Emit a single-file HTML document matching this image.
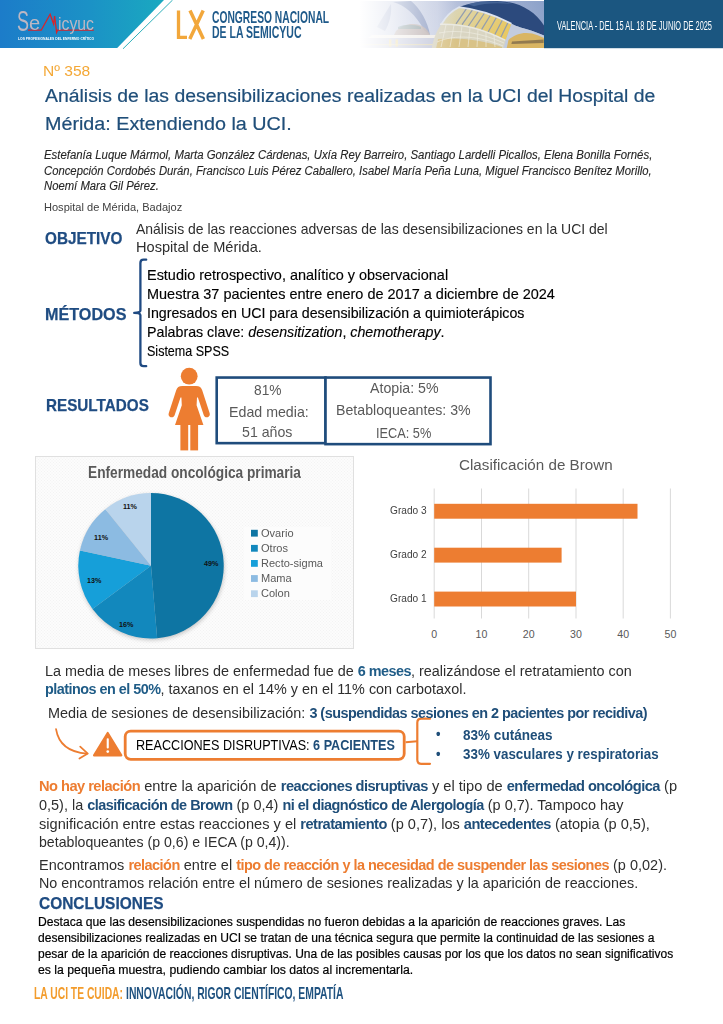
<!DOCTYPE html>
<html lang="es"><head><meta charset="utf-8"><title>Poster 358</title>
<style>
html,body{margin:0;padding:0;background:#fff;}
body{width:723px;height:1024px;overflow:hidden;font-family:"Liberation Sans",sans-serif;}
#page{position:relative;width:723px;height:1024px;overflow:hidden;background:#fff;}
.t{position:absolute;white-space:nowrap;line-height:1;margin:0;padding:0;}
.t>.s{display:inline-block;transform-origin:0 50%;white-space:nowrap;}
.abs{position:absolute;}
svg{position:absolute;left:0;top:0;overflow:visible;}
.box{position:absolute;box-sizing:border-box;border:2.4px solid #1F4E79;background:#fff;}
.c{position:absolute;white-space:nowrap;line-height:1;transform:translateX(-50%);}

</style></head>
<body>
<div id="page">
<!-- ================= HEADER ================= -->
<svg width="723" height="60" viewBox="0 0 723 60">
  <defs>
    <linearGradient id="gban" x1="0" y1="0" x2="1" y2="0">
      <stop offset="0" stop-color="#1C7CC9"/>
      <stop offset="0.55" stop-color="#1B92C6"/>
      <stop offset="1" stop-color="#1AA9C0"/>
    </linearGradient>
    <linearGradient id="gsky" x1="0" y1="0" x2="0" y2="1">
      <stop offset="0" stop-color="#8E9FC6"/>
      <stop offset="0.6" stop-color="#B9C3DC"/>
      <stop offset="1" stop-color="#D8D6DE"/>
    </linearGradient>
    <linearGradient id="gfade" x1="0" y1="0" x2="1" y2="0">
      <stop offset="0" stop-color="#fff" stop-opacity="1"/>
      <stop offset="0.05" stop-color="#fff" stop-opacity="1"/>
      <stop offset="0.2" stop-color="#fff" stop-opacity="0.75"/>
      <stop offset="0.4" stop-color="#fff" stop-opacity="0.3"/>
      <stop offset="0.55" stop-color="#fff" stop-opacity="0"/>
    </linearGradient>
    <linearGradient id="gskyh" x1="0" y1="0" x2="1" y2="0">
      <stop offset="0.45" stop-color="#C9D0E4" stop-opacity="0.9"/>
      <stop offset="0.7" stop-color="#AFBCDA" stop-opacity="0.6"/>
      <stop offset="1" stop-color="#8BA1C9" stop-opacity="0.9"/>
    </linearGradient>
    <linearGradient id="gwin" x1="0" y1="0" x2="1" y2="0.35">
      <stop offset="0" stop-color="#D6D6C8"/>
      <stop offset="0.4" stop-color="#DFD3A0"/>
      <stop offset="1" stop-color="#E8C965"/>
    </linearGradient>
    <clipPath id="cph"><rect x="350" y="1" width="194" height="47"/></clipPath>
  </defs>
  <!-- left banner -->
  <polygon points="0,0 164,0 117.2,48 0,48" fill="url(#gban)"/>
  <line x1="172.6" y1="0" x2="123" y2="48.8" stroke="#2FB0BA" stroke-width="1"/>
  <!-- photo -->
  <g clip-path="url(#cph)">
    <rect x="350" y="0" width="194" height="49" fill="url(#gsky)"/>
    <rect x="350" y="0" width="194" height="49" fill="url(#gskyh)"/>
    <!-- Palau de les Arts (left, faded) -->
    <path d="M393,2 C405,5 416,15 424,30 L430,35 C428,22 420,8 411,1 Z" fill="#7C8DB8" opacity="0.8"/>
    <path d="M377,27 C381,20 386,12 391,4 C392,14 389,24 385,31 Z" fill="#8796BE" opacity="0.75"/>
    <path d="M396,31 C403,24 414,22 422,26 C427,29 429,32 430,35 L394,35 Z" fill="#B9A9A4" opacity="0.85"/>
    <path d="M398,27 C405,24 414,24 421,27 L421,29 L398,29 Z" fill="#7F9A9E" opacity="0.7"/>
    <path d="M372,35 L436,35 L440,38 L368,38 Z" fill="#F1ECE6" opacity="0.95"/>
    <rect x="350" y="38" width="96" height="11" fill="#C3C7DA"/>
    <rect x="389" y="39.5" width="2.4" height="7" fill="#E9D594"/>
    <rect x="395.5" y="39.5" width="2.4" height="7" fill="#E9D594"/>
    <rect x="350" y="44" width="96" height="1.2" fill="#E6D9B0" opacity="0.8"/>
    <!-- Hemisferic: dark dome cap -->
    <path d="M459,7.2 C470,2.6 485,0.6 500,1.2 C521,2.4 536,12 545,27 L545,36 C536,32 528,29 520.5,27.4 C517,26.4 514,25.2 511.5,23.8 C496,15.6 480,9.6 459,7.2 Z" fill="#2C4A7D"/>
    <path d="M468,4.2 C482,0.2 500,0 514,4.6 C500,2.2 484,3.2 474,6.2 Z" fill="#4C6A9C" opacity="0.8"/>
    <!-- lower lattice body -->
    <path d="M432,49 L432,47 C434,36 438,29 441.5,24 C456,23.5 480,27 505.6,40.4 L508,49 Z" fill="#D9D5C2"/>
    <path d="M436,49 L438,39 C458,37 484,40 502,47 L502,49 Z" fill="#D8BF7E" opacity="0.85"/>
    <g stroke="#F2F0E6" stroke-width="0.7" opacity="0.8" fill="none">
      <path d="M437,42 C455,34 480,36 503,46"/><path d="M439,33 C458,29 482,33 504,43"/>
      <line x1="446" y1="25" x2="441" y2="47"/><line x1="454" y1="25" x2="450" y2="47"/><line x1="462" y1="26" x2="459" y2="47"/>
      <line x1="470" y1="27.5" x2="468" y2="47"/><line x1="478" y1="29.5" x2="477" y2="47"/><line x1="486" y1="32" x2="486" y2="47"/><line x1="494" y1="35" x2="495" y2="47"/>
    </g>
    <!-- window band -->
    <path d="M441.5,24 C446,16 452,10.6 459,7.2 C480,9.6 496,15.6 511.5,23.8 L505.6,40.4 C482,28 458,23.6 441.5,24 Z" fill="url(#gwin)"/>
    <g stroke="#8F9BB0" stroke-width="1.25" opacity="0.95">
      <line x1="466.5" y1="8.6" x2="456" y2="23.8"/><line x1="472.5" y1="9.8" x2="462" y2="24.6"/>
      <line x1="478.5" y1="11.2" x2="468.4" y2="26"/><line x1="484.5" y1="13" x2="474.8" y2="27.6"/>
      <line x1="490.5" y1="15" x2="481.4" y2="29.8"/><line x1="496.5" y1="17.2" x2="488" y2="32.2"/>
      <line x1="502.5" y1="19.8" x2="494.6" y2="35"/><line x1="508" y1="22.4" x2="500.6" y2="37.8"/>
    </g>
    <!-- white ribs -->
    <path d="M441.5,24 C446,16 452,10.6 459,7.2 C480,9.6 496,15.6 511.5,23.8" fill="none" stroke="#DDE3EE" stroke-width="1.7"/>
    <path d="M440,24.2 C458,23.6 482,28 505.6,40.4" fill="none" stroke="#E9E8E0" stroke-width="1.5"/>
    <!-- eyelid support + lit interior -->
    <path d="M511.5,23.8 C514,25.2 517,26.4 520.5,27.4 C528,29 536,32 545,36 L545,49 L503.5,49 L505.6,40.4 Z" fill="#C3CCDE"/>
    <path d="M508.5,40 C515,33.6 524,31.8 532,33.6 C537,34.8 541,36.6 545,38.6 L545,49 L506.5,49 Z" fill="#D9B563"/>
    <path d="M512,41.4 L543.6,39.6 L543.6,43 L511.4,44 Z" fill="#7A6748" opacity="0.75"/>
    <!-- left fade to white -->
    <rect x="350" y="0" width="194" height="49" fill="url(#gfade)"/>
  </g>
  <!-- right panel -->
  <rect x="544" y="0" width="179" height="48.2" fill="#1B5680"/>
</svg>

<!-- SEMICYUC logo (texts are emitted by build.py) -->
<svg width="723" height="60" viewBox="0 0 723 60">
  <path d="M28,30.2 L41.2,30.2 L50.1,14.2 L53.6,24 L54.6,16 L56.6,32.4 L57.6,30.2 L93.8,30.2" fill="none" stroke="#D8232A" stroke-width="1.3" stroke-linejoin="miter" stroke-miterlimit="6"/>
  <!-- LX -->
  <path d="M178.5,10.5 L178.5,37.4 L187,37.4" fill="none" stroke="#F2A73B" stroke-width="3.3"/>
  <path d="M190,10.5 L203.4,39 M203.2,10.5 L189.8,39" fill="none" stroke="#F2A73B" stroke-width="3.5"/>
</svg>
<!-- ================= BODY GRAPHICS ================= -->
<svg width="723" height="1024" viewBox="0 0 723 1024">
  <!-- metodos bracket -->
  <path d="M146.2,259.7 L143.6,259.7 Q140.4,259.7 140.4,262.9 L140.4,310.6 Q140.4,312.9 134.2,312.9 Q140.4,312.9 140.4,315.2 L140.4,363 Q140.4,366.2 143.6,366.2 L146.2,366.2" fill="none" stroke="#1F4A82" stroke-width="2.3" stroke-linecap="round" stroke-linejoin="round"/>
  <!-- woman icon -->
  <g fill="#ED7D31">
    <circle cx="189.2" cy="376.2" r="8.4"/>
    <path d="M182.4,386 L196,386 C199.6,386 201.3,387.6 202.2,390.2 L209.6,413 C210.4,415.6 208.8,417.2 207,417.3 C205.4,417.4 204.3,416.6 203.7,414.9 L197.9,397.4 L197,397.4 L196.6,405.2 L203.4,425 L175,425 L181.8,405.2 L181.4,397.4 L180.5,397.4 L174.7,414.9 C174.1,416.6 173,417.4 171.4,417.3 C169.6,417.2 168,415.6 168.8,413 L176.2,390.2 C177.1,387.6 178.8,386 182.4,386 Z"/>
    <rect x="180.4" y="424" width="7.8" height="26.4"/>
    <rect x="190.3" y="424" width="7.8" height="26.4"/>
  </g>
  <!-- arrow -->
  <path d="M56,729 C58.5,744 69,752.4 87,753.6" fill="none" stroke="#ED7D31" stroke-width="1.7" stroke-linecap="round"/>
  <path d="M80.2,746.6 L87.8,753.6 L79.4,758.6" fill="none" stroke="#ED7D31" stroke-width="1.7" stroke-linecap="round" stroke-linejoin="round"/>
  <!-- warning triangle -->
  <path d="M107.7,733 L121.3,755.4 L94.1,755.4 Z" fill="#ED7D31" stroke="#ED7D31" stroke-width="2.2" stroke-linejoin="round"/>
  <rect x="106.7" y="738.2" width="2.1" height="10.2" rx="0.9" fill="#fff"/>
  <circle cx="107.75" cy="751.6" r="1.35" fill="#fff"/>
  <!-- orange box -->
  <rect x="125.2" y="731.1" width="279" height="28.2" rx="5.5" ry="5.5" fill="#fff" stroke="#ED7D31" stroke-width="2.8"/>
  <!-- orange brace -->
  <path d="M405.6,742.3 L417.3,741.2" fill="none" stroke="#ED7D31" stroke-width="2.1"/>
  <path d="M430,718.7 L421.3,718.7 Q417.3,718.7 417.3,722.7 L417.3,759.8 Q417.3,763.8 421.3,763.8 L430,763.8" fill="none" stroke="#ED7D31" stroke-width="2.2" stroke-linecap="round" stroke-linejoin="round"/>
</svg>

<!-- result boxes -->
<svg width="723" height="1024" viewBox="0 0 723 1024">
  <rect x="216.7" y="377.55" width="108.8" height="65.6" fill="#fff" stroke="#1F4C7C" stroke-width="2.6"/>
  <rect x="325.5" y="377.55" width="165" height="66.6" fill="#fff" stroke="#1F4C7C" stroke-width="2.6"/>
</svg>

<!-- ================= PIE CHART ================= -->
<div class="abs" id="piebox" style="left:35px;top:455.5px;width:319px;height:193px;box-sizing:border-box;border:1px solid #E0E0E0;background-color:#F3F3F3;background-image:repeating-linear-gradient(45deg,rgba(255,255,255,0.5) 0 1px,rgba(255,255,255,0) 1px 2.12px),repeating-linear-gradient(-45deg,rgba(255,255,255,0.5) 0 1px,rgba(255,255,255,0) 1px 2.12px);"></div>
<div class="abs" style="left:244px;top:527px;width:86.5px;height:73px;background:#FCFCFC;"></div>
<svg width="723" height="1024" viewBox="0 0 723 1024">
  <defs>
    <filter id="psh" x="-20%" y="-20%" width="140%" height="140%">
      <feGaussianBlur stdDeviation="2.2"/>
    </filter>
  </defs>
  <circle cx="151.6" cy="567.4" r="72.6" fill="#000" opacity="0.22" filter="url(#psh)"/>
  <g id="pie">
    <path d="M151.00,565.80 L151.00,493.10 A72.7,72.7 0 0 1 157.17,638.24 Z" fill="#0E75A3"/>
    <path d="M151.00,565.80 L157.17,638.24 A72.7,72.7 0 0 1 92.55,609.03 Z" fill="#1288BD"/>
    <path d="M151.00,565.80 L92.55,609.03 A72.7,72.7 0 0 1 79.93,550.48 Z" fill="#169FD9"/>
    <path d="M151.00,565.80 L79.93,550.48 A72.7,72.7 0 0 1 105.33,509.24 Z" fill="#8CBBE2"/>
    <path d="M151.00,565.80 L105.33,509.24 A72.7,72.7 0 0 1 151.00,493.10 Z" fill="#B9D4EC"/>
  </g>
  <!-- legend squares -->
  <rect x="251" y="529.8" width="6.8" height="6.8" fill="#0E75A3"/>
  <rect x="251" y="544.9" width="6.8" height="6.8" fill="#1288BD"/>
  <rect x="251" y="560.0" width="6.8" height="6.8" fill="#169FD9"/>
  <rect x="251" y="575.1" width="6.8" height="6.8" fill="#8CBBE2"/>
  <rect x="251" y="590.3" width="6.8" height="6.8" fill="#B9D4EC"/>

  <!-- ================= BAR CHART ================= -->
  <g stroke="#D9D9D9" stroke-width="1">
    <line x1="434.2" y1="488.5" x2="434.2" y2="618.5"/>
    <line x1="481.5" y1="488.5" x2="481.5" y2="618.5"/>
    <line x1="528.7" y1="488.5" x2="528.7" y2="618.5"/>
    <line x1="576" y1="488.5" x2="576" y2="618.5"/>
    <line x1="623.2" y1="488.5" x2="623.2" y2="618.5"/>
    <line x1="670.4" y1="488.5" x2="670.4" y2="618.5"/>
  </g>
  <g fill="#ED7D31">
    <rect x="434.2" y="503.8" width="203.3" height="14.9"/>
    <rect x="434.2" y="547.7" width="127.4" height="14.9"/>
    <rect x="434.2" y="591.6" width="141.8" height="14.9"/>
  </g>
</svg>

<!-- pie labels -->
<div class="c" style="left:211.2px;top:559.9px;font-size:7.2px;font-weight:bold;color:#111;">49%</div>
<div class="c" style="left:126.3px;top:620.7px;font-size:7.2px;font-weight:bold;color:#111;">16%</div>
<div class="c" style="left:94.2px;top:577px;font-size:7.2px;font-weight:bold;color:#111;">13%</div>
<div class="c" style="left:101.1px;top:533.6px;font-size:7.2px;font-weight:bold;color:#111;">11%</div>
<div class="c" style="left:129.9px;top:503.4px;font-size:7.2px;font-weight:bold;color:#111;">11%</div>
<!-- legend text -->
<div class="abs" style="left:261.2px;top:525.7px;font-size:11.4px;line-height:15.13px;color:#595959;white-space:nowrap;transform:scaleX(0.97);transform-origin:0 0;">Ovario<br>Otros<br>Recto-sigma<br>Mama<br>Colon</div>
<!-- bar labels -->
<div class="abs" style="left:389.7px;top:505.2px;font-size:10.9px;line-height:1;color:#404040;white-space:nowrap;transform:scaleX(0.93);transform-origin:0 0;">Grado 3</div>
<div class="abs" style="left:389.7px;top:549.1px;font-size:10.9px;line-height:1;color:#404040;white-space:nowrap;transform:scaleX(0.93);transform-origin:0 0;">Grado 2</div>
<div class="abs" style="left:389.7px;top:593px;font-size:10.9px;line-height:1;color:#404040;white-space:nowrap;transform:scaleX(0.93);transform-origin:0 0;">Grado 1</div>
<div class="c" style="left:434.2px;top:628.6px;font-size:10.6px;color:#595959;">0</div>
<div class="c" style="left:481.5px;top:628.6px;font-size:10.6px;color:#595959;">10</div>
<div class="c" style="left:528.7px;top:628.6px;font-size:10.6px;color:#595959;">20</div>
<div class="c" style="left:576px;top:628.6px;font-size:10.6px;color:#595959;">30</div>
<div class="c" style="left:623.2px;top:628.6px;font-size:10.6px;color:#595959;">40</div>
<div class="c" style="left:670.4px;top:628.6px;font-size:10.6px;color:#595959;">50</div>

<div class="t" style="left:17.0px;top:6.40px;font-size:30.0px;color:#BCB7C3;"><span class="s" style="transform:scaleX(0.5995);">S</span></div>
<div class="t" style="left:29.0px;top:13.31px;font-size:20.0px;color:#BCB7C3;"><span class="s" style="transform:scaleX(1.0067);">e</span></div>
<div class="t" style="left:58.0px;top:14.91px;font-size:18.0px;color:#BCB7C3;"><span class="s" style="transform:scaleX(0.8777);">icyuc</span></div>
<div class="t" style="left:17.6px;top:36.60px;font-size:4.4px;color:#fff;font-weight:bold;"><span class="s" style="transform:scaleX(0.7596);">LOS PROFESIONALES DEL ENFERMO CRÍTICO</span></div>
<div class="t" style="left:211.5px;top:8.51px;font-size:16.4px;color:#1F5A8A;font-weight:bold;"><span class="s" style="transform:scaleX(0.6273);">CONGRESO NACIONAL</span></div>
<div class="t" style="left:211.5px;top:24.01px;font-size:16.4px;color:#1F5A8A;font-weight:bold;"><span class="s" style="transform:scaleX(0.6409);">DE LA SEMICYUC</span></div>
<div class="t" style="left:557.2px;top:19.82px;font-size:12.0px;color:#fff;"><span class="s" style="transform:scaleX(0.6175);">VALENCIA - DEL 15 AL 18 DE JUNIO DE 2025</span></div>
<div class="t" style="left:42.6px;top:62.61px;font-size:15.0px;color:#F4A836;"><span class="s" style="transform:scaleX(1.0370);">Nº 358</span></div>
<div class="t" style="left:44.5px;top:88.01px;font-size:17.6px;color:#1F4E79;-webkit-text-stroke:0.2px #1F4E79;"><span class="s" style="transform:scaleX(1.1026);">Análisis de las desensibilizaciones realizadas en la UCI del Hospital de</span></div>
<div class="t" style="left:44.5px;top:115.61px;font-size:17.6px;color:#1F4E79;-webkit-text-stroke:0.2px #1F4E79;"><span class="s" style="transform:scaleX(1.1216);">Mérida: Extendiendo la UCI.</span></div>
<div class="t" style="left:43.8px;top:148.82px;font-size:12.0px;color:#262626;font-style:italic;-webkit-text-stroke:0.12px #262626;"><span class="s" style="transform:scaleX(0.9490);">Estefanía Luque Mármol, Marta González Cárdenas, Uxía Rey Barreiro, Santiago Lardelli Picallos, Elena Bonilla Fornés,</span></div>
<div class="t" style="left:43.8px;top:164.60px;font-size:12.0px;color:#262626;font-style:italic;-webkit-text-stroke:0.12px #262626;"><span class="s" style="transform:scaleX(0.9411);">Concepción Cordobés Durán, Francisco Luis Pérez Caballero, Isabel María Peña Luna, Miguel Francisco Benítez Morillo,</span></div>
<div class="t" style="left:43.8px;top:179.82px;font-size:12.0px;color:#262626;font-style:italic;-webkit-text-stroke:0.12px #262626;"><span class="s" style="transform:scaleX(0.9406);">Noemí Mara Gil Pérez.</span></div>
<div class="t" style="left:43.8px;top:201.51px;font-size:10.9px;color:#404040;"><span class="s" style="transform:scaleX(1.0145);">Hospital de Mérida, Badajoz</span></div>
<div class="t" style="left:44.9px;top:230.61px;font-size:16.9px;color:#1F4C82;font-weight:bold;-webkit-text-stroke:0.25px #1F4C82;"><span class="s" style="transform:scaleX(0.9061);">OBJETIVO</span></div>
<div class="t" style="left:135.6px;top:221.91px;font-size:14.6px;color:#2E2E2E;"><span class="s" style="transform:scaleX(0.9579);">Análisis de las reacciones adversas de las desensibilizaciones en la UCI del</span></div>
<div class="t" style="left:135.6px;top:240.21px;font-size:14.6px;color:#2E2E2E;"><span class="s" style="transform:scaleX(1.0013);">Hospital de Mérida.</span></div>
<div class="t" style="left:45.3px;top:306.61px;font-size:16.9px;color:#1F4C82;font-weight:bold;-webkit-text-stroke:0.25px #1F4C82;"><span class="s" style="transform:scaleX(0.9578);">MÉTODOS</span></div>
<div class="t" style="left:147.2px;top:267.20px;font-size:15.0px;color:#000;-webkit-text-stroke:0.15px #000;"><span class="s" style="transform:scaleX(0.9630);">Estudio retrospectivo, analítico y observacional</span></div>
<div class="t" style="left:147.2px;top:286.20px;font-size:15.0px;color:#000;-webkit-text-stroke:0.15px #000;"><span class="s" style="transform:scaleX(0.9648);">Muestra 37 pacientes entre enero de 2017 a diciembre de 2024</span></div>
<div class="t" style="left:147.2px;top:305.20px;font-size:15.0px;color:#000;-webkit-text-stroke:0.15px #000;"><span class="s" style="transform:scaleX(0.9469);">Ingresados en UCI para desensibilización a quimioterápicos</span></div>
<div class="t" style="left:147.2px;top:324.01px;font-size:15.0px;color:#000;-webkit-text-stroke:0.15px #000;"><span class="s" style="transform:scaleX(0.9488);">Palabras clave: <i>desensitization</i>, <i>chemotherapy</i>.</span></div>
<div class="t" style="left:147.2px;top:342.81px;font-size:15.0px;color:#000;-webkit-text-stroke:0.15px #000;"><span class="s" style="transform:scaleX(0.8346);">Sistema SPSS</span></div>
<div class="t" style="left:46.0px;top:397.51px;font-size:16.9px;color:#1F4C82;font-weight:bold;-webkit-text-stroke:0.25px #1F4C82;"><span class="s" style="transform:scaleX(0.9029);">RESULTADOS</span></div>
<div class="t" style="left:254.0px;top:383.41px;font-size:14.6px;color:#595959;"><span class="s" style="transform:scaleX(0.9412);">81%</span></div>
<div class="t" style="left:228.7px;top:404.52px;font-size:14.6px;color:#595959;"><span class="s" style="transform:scaleX(0.9737);">Edad media:</span></div>
<div class="t" style="left:241.6px;top:424.71px;font-size:14.6px;color:#595959;"><span class="s" style="transform:scaleX(0.9704);">51 años</span></div>
<div class="t" style="left:370.4px;top:381.21px;font-size:14.6px;color:#595959;"><span class="s" style="transform:scaleX(0.9718);">Atopia: 5%</span></div>
<div class="t" style="left:336.3px;top:403.30px;font-size:14.6px;color:#595959;"><span class="s" style="transform:scaleX(0.9708);">Betabloqueantes: 3%</span></div>
<div class="t" style="left:376.2px;top:425.52px;font-size:14.6px;color:#595959;"><span class="s" style="transform:scaleX(0.8741);">IECA: 5%</span></div>
<div class="t" style="left:88.0px;top:463.70px;font-size:16.4px;color:#595959;font-weight:bold;"><span class="s" style="transform:scaleX(0.8351);">Enfermedad oncológica primaria</span></div>
<div class="t" style="left:458.8px;top:457.21px;font-size:15.4px;color:#595959;"><span class="s" style="transform:scaleX(0.9866);">Clasificación de Brown</span></div>
<div class="t" style="left:45.0px;top:663.60px;font-size:14.0px;color:#2E2E2E;"><span class="s" style="transform:scaleX(1.0280);">La media de meses libres de enfermedad fue de <b style="color:#1F5C87;letter-spacing:-0.036em">6 meses</b>, realizándose el retratamiento con</span></div>
<div class="t" style="left:45.0px;top:681.90px;font-size:14.0px;color:#2E2E2E;"><span class="s" style="transform:scaleX(1.0277);"><b style="color:#1F5C87;letter-spacing:-0.036em">platinos en el 50%</b>, taxanos en el 14% y en el 11% con carbotaxol.</span></div>
<div class="t" style="left:48.3px;top:706.21px;font-size:14.0px;color:#2E2E2E;"><span class="s" style="transform:scaleX(1.0302);">Media de sesiones de desensibilización: <b style="color:#1F4E79;letter-spacing:-0.036em">3 (suspendidas sesiones en 2 pacientes por recidiva)</b></span></div>
<div class="t" style="left:135.6px;top:738.31px;font-size:14.0px;color:#000;"><span class="s" style="transform:scaleX(0.9011);">REACCIONES DISRUPTIVAS: <b style="color:#1F4E79;letter-spacing:0">6 PACIENTES</b></span></div>
<div class="t" style="left:462.7px;top:727.61px;font-size:14.8px;color:#1F4E79;font-weight:bold;"><span class="s" style="transform:scaleX(0.9153);">83% cutáneas</span></div>
<div class="t" style="left:462.7px;top:746.72px;font-size:14.8px;color:#1F4E79;font-weight:bold;"><span class="s" style="transform:scaleX(0.9046);">33% vasculares y respiratorias</span></div>
<div class="t" style="left:435.7px;top:727.40px;font-size:14.0px;color:#1F4E79;font-weight:bold;"><span class="s" style="transform:scaleX(0.9172);">•</span></div>
<div class="t" style="left:435.7px;top:746.90px;font-size:14.0px;color:#1F4E79;font-weight:bold;"><span class="s" style="transform:scaleX(0.9172);">•</span></div>
<div class="t" style="left:39.3px;top:778.91px;font-size:14.6px;color:#2E2E2E;"><span class="s" style="transform:scaleX(1.0027);"><b style="color:#ED7D31;letter-spacing:-0.036em">No hay relación</b> entre la aparición de <b style="color:#1F4E79;letter-spacing:-0.036em">reacciones disruptivas</b> y el tipo de <b style="color:#1F4E79;letter-spacing:-0.036em">enfermedad oncológica</b> (p</span></div>
<div class="t" style="left:39.3px;top:797.80px;font-size:14.6px;color:#2E2E2E;"><span class="s" style="transform:scaleX(0.9911);">0,5), la <b style="color:#1F4E79;letter-spacing:-0.036em">clasificación de Brown</b> (p 0,4) <b style="color:#1F4E79;letter-spacing:-0.036em">ni el diagnóstico de Alergología</b> (p 0,7). Tampoco hay</span></div>
<div class="t" style="left:39.3px;top:816.71px;font-size:14.6px;color:#2E2E2E;"><span class="s" style="transform:scaleX(1.0004);">significación entre estas reacciones y el <b style="color:#1F4E79;letter-spacing:-0.036em">retratamiento</b> (p 0,7), los <b style="color:#1F4E79;letter-spacing:-0.036em">antecedentes</b> (atopia (p 0,5),</span></div>
<div class="t" style="left:39.3px;top:835.30px;font-size:14.6px;color:#2E2E2E;"><span class="s" style="transform:scaleX(0.9687);">betabloqueantes (p 0,6) e IECA (p 0,4)).</span></div>
<div class="t" style="left:39.3px;top:857.61px;font-size:14.6px;color:#2E2E2E;"><span class="s" style="transform:scaleX(0.9927);">Encontramos <b style="color:#ED7D31;letter-spacing:-0.036em">relación</b> entre el <b style="color:#ED7D31;letter-spacing:-0.036em">tipo de reacción y la necesidad de suspender las sesiones</b> (p 0,02).</span></div>
<div class="t" style="left:39.3px;top:875.80px;font-size:14.6px;color:#2E2E2E;"><span class="s" style="transform:scaleX(0.9822);">No encontramos relación entre el número de sesiones realizadas y la aparición de reacciones.</span></div>
<div class="t" style="left:39.0px;top:895.31px;font-size:16.4px;color:#1F4C82;font-weight:bold;-webkit-text-stroke:0.25px #1F4C82;"><span class="s" style="transform:scaleX(0.9428);">CONCLUSIONES</span></div>
<div class="t" style="left:38.3px;top:915.91px;font-size:12.0px;color:#000;-webkit-text-stroke:0.2px #000;"><span class="s" style="transform:scaleX(1.0108);">Destaca que las desensibilizaciones suspendidas no fueron debidas a la aparición de reacciones graves. Las</span></div>
<div class="t" style="left:38.3px;top:932.10px;font-size:12.0px;color:#000;-webkit-text-stroke:0.2px #000;"><span class="s" style="transform:scaleX(1.0044);">desensibilizaciones realizadas en UCI se tratan de una técnica segura que permite la continuidad de las sesiones a</span></div>
<div class="t" style="left:38.3px;top:948.10px;font-size:12.0px;color:#000;-webkit-text-stroke:0.2px #000;"><span class="s" style="transform:scaleX(1.0013);">pesar de la aparición de reacciones disruptivas. Una de las posibles causas por los que los datos no sean significativos</span></div>
<div class="t" style="left:38.3px;top:964.01px;font-size:12.0px;color:#000;-webkit-text-stroke:0.2px #000;"><span class="s" style="transform:scaleX(1.0206);">es la pequeña muestra, pudiendo cambiar los datos al incrementarla.</span></div>
<div class="t" style="left:34.0px;top:985.00px;font-size:17.0px;font-weight:bold;color:#F39C2C;"><span class="s" style="transform:scaleX(0.6067);">LA UCI TE CUIDA:</span></div>
<div class="t" style="left:126.3px;top:985.00px;font-size:17.0px;font-weight:bold;color:#1F5280;"><span class="s" style="transform:scaleX(0.6090);">INNOVACIÓN, RIGOR CIENTÍFICO, EMPATÍA</span></div>
</div>
</body></html>
